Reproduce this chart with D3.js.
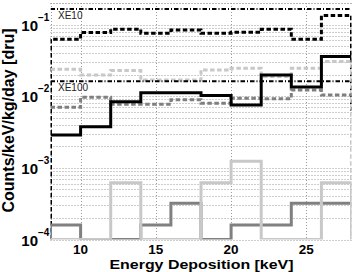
<!DOCTYPE html>
<html><head><meta charset="utf-8">
<script src="https://cdn.jsdelivr.net/npm/d3@7/dist/d3.min.js"></script>
<style>body{margin:0;background:#fff}svg{display:block}</style>
</head><body>
<svg id="c" width="354" height="272"></svg>
<script>
// ---- data ----
const binEdges = [8,10,12,14,16,18,20,22,24,26,28];
const xTicks = [10,15,20,25];
const yTicks = [1e-4,1e-3,1e-2,1e-1];
const yTickExp = ["\u22124","\u22123","\u22122","\u22121"];
const blackDotted     = [0.0625,0.0773,0.0863,0.0758,0.0843,0.0758,0.0783,0.0863,0.0625,0.134];
const lightGrayDotted = [0.0238,0.0198,0.0228,0.0169,0.0169,0.0233,0.0246,0.0188,0.0246,0.0304];
const grayDotted      = [0.0070,0.0097,0.0077,0.0077,0.0089,0.0080,0.0094,0.0092,0.0122,0.0104];
const blackSolid      = [0.00288,0.00376,0.0084,0.0112,0.0112,0.0102,0.00755,0.0198,0.0134,0.0357];
const lightGraySolid  = [0,0,6.2e-4,0,0,6.2e-4,1.24e-3,0,0,6.2e-4];
const graySolid       = [1.6e-4,0,0,1.6e-4,3.2e-4,0,1.6e-4,1.6e-4,3.2e-4,3.2e-4];
const xe10Level = 0.165;
const xe100Level = 0.0162;
const labels = ["XE10","XE100"];

// ---- chart ----
const svg = d3.select("#c");
const x = d3.scaleLinear().domain([8,28]).range([50.5,351.5]);
const y = d3.scaleLog().domain([1e-4,0.2]).range([239.5,3]);
const yv = v => v > 0 ? y(v) : y(1e-4);

svg.append("defs").append("clipPath").attr("id","pa")
  .append("rect").attr("x",x(8)).attr("y",y(0.2)).attr("width",x(28)-x(8)).attr("height",y(1e-4)-y(0.2));

const grid = svg.append("g").attr("stroke","#9a9a9a").attr("stroke-width",1).attr("stroke-dasharray","1,2").attr("fill","none");
const yGridVals = [];
for (let e=-4; e<=-1; e++) for (let k=1; k<=9; k++) yGridVals.push(k*Math.pow(10,e));
yGridVals.push(0.2);
grid.selectAll("line.yg").data(yGridVals).join("line")
  .attr("x1",x(8)).attr("x2",x(28))
  .attr("y1",d=>Math.round(y(d))+0.5).attr("y2",d=>Math.round(y(d))+0.5);
grid.selectAll("line.xg").data(xTicks).join("line")
  .attr("x1",d=>Math.round(x(d))+0.5).attr("x2",d=>Math.round(x(d))+0.5)
  .attr("y1",y(0.2)).attr("y2",y(1e-4));
grid.append("line").attr("x1",51.5).attr("x2",51.5).attr("y1",y(0.2)).attr("y2",y(1e-4));

const line = d3.line().x(d=>x(d[0])).y(d=>yv(d[1])).curve(d3.curveStepAfter);
function stairs(vals, before, after){
  const pts = [];
  if (before !== null) pts.push([binEdges[0], before]);
  vals.forEach((v,i)=>pts.push([binEdges[i], v]));
  pts.push([binEdges[binEdges.length-1], after !== null ? after : vals[vals.length-1]]);
  return pts;
}
const plot = svg.append("g").attr("clip-path","url(#pa)").attr("fill","none");
const series = [
  {v:blackDotted, b:0, a:0.0063, c:"#000", w:3, dash:"4.5,2.5"},
  {v:lightGrayDotted, b:null, a:0, c:"#c8c8c8", w:3, dash:"4.5,2.5"},
  {v:grayDotted, b:null, a:null, c:"#7f7f7f", w:3, dash:"4.5,2.5"},
  {v:blackSolid, b:null, a:null, c:"#000", w:3, dash:null},
  {v:graySolid, b:0, a:null, c:"#808080", w:3, dash:null},
  {v:lightGraySolid, b:null, a:0, c:"#c8c8c8", w:3, dash:null}
];
series.forEach(s=>{
  plot.append("path").attr("d", line(stairs(s.v,s.b,s.a)))
    .attr("stroke",s.c).attr("stroke-width",s.w)
    .attr("stroke-dasharray",s.dash).attr("stroke-linejoin","miter").attr("stroke-linecap","butt");
});
[xe10Level, xe100Level].forEach(lv=>{
  plot.append("line").attr("x1",x(8)).attr("x2",x(28)).attr("y1",y(lv)).attr("y2",y(lv))
    .attr("stroke","#000").attr("stroke-width",2).attr("stroke-dasharray","4.5,2,1,2");
});
svg.selectAll("text.lab").data(labels).join("text")
  .attr("x",58).attr("y",(d,i)=> i===0 ? y(xe10Level)+10.5 : y(xe100Level)+10)
  .attr("font-family","Liberation Sans, Arial, sans-serif").attr("font-size",10).attr("fill","#222")
  .text(d=>d);

// axes text
const font = "Liberation Sans, Arial, Helvetica, sans-serif";
svg.selectAll("text.xt").data(xTicks).join("text")
  .attr("x",d=>x(d)).attr("y",253.5).attr("text-anchor","middle")
  .attr("font-family",font).attr("font-weight","bold").attr("font-size",13.5).text(d=>d);
svg.selectAll("text.yt").data(yTicks).join("text")
  .attr("x",38).attr("y",d=>y(d)+6).attr("text-anchor","end")
  .attr("font-family",font).attr("font-weight","bold").attr("font-size",15).text("10");
svg.selectAll("text.ye").data(yTicks).join("text")
  .attr("x",38).attr("y",d=>y(d)-4).attr("text-anchor","start")
  .attr("font-family",font).attr("font-weight","bold").attr("font-size",10)
  .text((d,i)=>yTickExp[i]);
svg.append("text").attr("x",201.5).attr("y",269).attr("text-anchor","middle")
  .attr("font-family",font).attr("font-weight","bold").attr("font-size",13)
  .attr("textLength",184).attr("lengthAdjust","spacingAndGlyphs")
  .text("Energy Deposition [keV]");
svg.append("text").attr("transform","translate(14,120.5) rotate(-90)").attr("text-anchor","middle")
  .attr("font-family",font).attr("font-weight","bold").attr("font-size",16)
  .text("Counts/keV/kg/day [dru]");
</script>
</body></html>
